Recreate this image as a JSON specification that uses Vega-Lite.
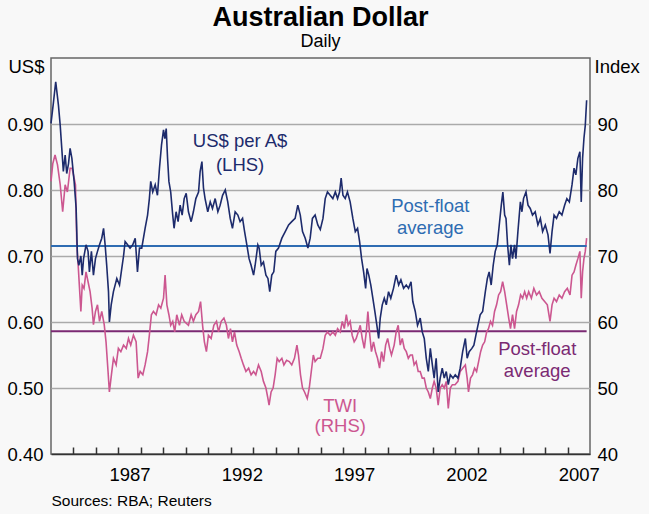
{
  "$schema": "https://vega.github.io/schema/vega-lite/v6.json",
  "width": 539,
  "height": 396,
  "autosize": "none",
  "padding": {"left": 51, "top": 58, "right": 59, "bottom": 60},
  "background": "#f8f8f8",
  "title": {
    "text": "Australian Dollar",
    "subtitle": "Daily",
    "anchor": "middle",
    "frame": "group",
    "font": "Liberation Sans",
    "fontSize": 27,
    "fontWeight": "bold",
    "color": "#000000",
    "subtitleFont": "Liberation Sans",
    "subtitleFontSize": 18,
    "subtitleColor": "#000000",
    "subtitlePadding": 1,
    "offset": 5
  },
  "datasets": {
    "usd": [
      {"t":1984.00,"v":0.901},{"t":1984.10,"v":0.930},{"t":1984.21,"v":0.964},{"t":1984.33,"v":0.929},{"t":1984.41,"v":0.898},{"t":1984.48,"v":0.863},{"t":1984.55,"v":0.828},{"t":1984.63,"v":0.853},{"t":1984.70,"v":0.825},{"t":1984.78,"v":0.840},{"t":1984.85,"v":0.863},{"t":1984.93,"v":0.848},
      {"t":1985.03,"v":0.813},{"t":1985.12,"v":0.772},{"t":1985.18,"v":0.696},{"t":1985.24,"v":0.686},{"t":1985.33,"v":0.700},{"t":1985.39,"v":0.671},{"t":1985.45,"v":0.696},{"t":1985.56,"v":0.717},{"t":1985.65,"v":0.707},{"t":1985.71,"v":0.676},{"t":1985.80,"v":0.707},{"t":1985.89,"v":0.671},{"t":1985.98,"v":0.696},
      {"t":1986.07,"v":0.707},{"t":1986.16,"v":0.717},{"t":1986.26,"v":0.727},{"t":1986.34,"v":0.742},{"t":1986.41,"v":0.717},{"t":1986.48,"v":0.686},{"t":1986.56,"v":0.646},{"t":1986.60,"v":0.600},{"t":1986.68,"v":0.626},{"t":1986.78,"v":0.646},{"t":1986.93,"v":0.666},
      {"t":1987.05,"v":0.656},{"t":1987.15,"v":0.681},{"t":1987.23,"v":0.700},{"t":1987.30,"v":0.722},{"t":1987.41,"v":0.717},{"t":1987.52,"v":0.712},{"t":1987.64,"v":0.717},{"t":1987.75,"v":0.727},{"t":1987.85,"v":0.676},{"t":1987.94,"v":0.712},
      {"t":1988.04,"v":0.712},{"t":1988.19,"v":0.742},{"t":1988.30,"v":0.762},{"t":1988.38,"v":0.787},{"t":1988.44,"v":0.813},{"t":1988.53,"v":0.797},{"t":1988.64,"v":0.808},{"t":1988.74,"v":0.792},{"t":1988.83,"v":0.833},{"t":1988.92,"v":0.868},
      {"t":1989.01,"v":0.891},{"t":1989.07,"v":0.878},{"t":1989.13,"v":0.893},{"t":1989.19,"v":0.848},{"t":1989.25,"v":0.813},{"t":1989.33,"v":0.797},{"t":1989.42,"v":0.762},{"t":1989.48,"v":0.742},{"t":1989.57,"v":0.767},{"t":1989.66,"v":0.752},{"t":1989.75,"v":0.777},{"t":1989.84,"v":0.762},{"t":1989.93,"v":0.787},{"t":1990.02,"v":0.795},
      {"t":1990.12,"v":0.767},{"t":1990.24,"v":0.752},{"t":1990.34,"v":0.767},{"t":1990.45,"v":0.787},{"t":1990.57,"v":0.797},{"t":1990.64,"v":0.828},{"t":1990.72,"v":0.843},{"t":1990.79,"v":0.803},{"t":1990.86,"v":0.787},{"t":1990.98,"v":0.767},
      {"t":1991.09,"v":0.782},{"t":1991.19,"v":0.772},{"t":1991.31,"v":0.787},{"t":1991.43,"v":0.767},{"t":1991.53,"v":0.777},{"t":1991.64,"v":0.792},{"t":1991.76,"v":0.800},{"t":1991.87,"v":0.782},{"t":1991.98,"v":0.757},
      {"t":1992.08,"v":0.742},{"t":1992.20,"v":0.767},{"t":1992.32,"v":0.762},{"t":1992.42,"v":0.752},{"t":1992.53,"v":0.757},{"t":1992.62,"v":0.737},{"t":1992.72,"v":0.717},{"t":1992.82,"v":0.696},{"t":1992.91,"v":0.686},
      {"t":1993.02,"v":0.671},{"t":1993.09,"v":0.686},{"t":1993.21,"v":0.717},{"t":1993.27,"v":0.712},{"t":1993.36,"v":0.686},{"t":1993.46,"v":0.691},{"t":1993.57,"v":0.671},{"t":1993.66,"v":0.666},{"t":1993.74,"v":0.646},{"t":1993.83,"v":0.671},{"t":1993.92,"v":0.676},
      {"t":1994.01,"v":0.707},{"t":1994.13,"v":0.712},{"t":1994.28,"v":0.727},{"t":1994.43,"v":0.737},{"t":1994.58,"v":0.747},{"t":1994.72,"v":0.752},{"t":1994.87,"v":0.757},{"t":1994.99,"v":0.777},
      {"t":1995.10,"v":0.762},{"t":1995.20,"v":0.737},{"t":1995.32,"v":0.727},{"t":1995.44,"v":0.712},{"t":1995.54,"v":0.727},{"t":1995.64,"v":0.757},{"t":1995.76,"v":0.762},{"t":1995.88,"v":0.747},{"t":1995.99,"v":0.740},
      {"t":1996.11,"v":0.757},{"t":1996.21,"v":0.787},{"t":1996.31,"v":0.797},{"t":1996.43,"v":0.792},{"t":1996.55,"v":0.787},{"t":1996.66,"v":0.797},{"t":1996.76,"v":0.787},{"t":1996.85,"v":0.797},{"t":1996.92,"v":0.818},
      {"t":1997.00,"v":0.792},{"t":1997.10,"v":0.787},{"t":1997.20,"v":0.797},{"t":1997.32,"v":0.782},{"t":1997.44,"v":0.757},{"t":1997.55,"v":0.737},{"t":1997.65,"v":0.742},{"t":1997.74,"v":0.722},{"t":1997.83,"v":0.696},{"t":1997.92,"v":0.676},
      {"t":1998.01,"v":0.651},{"t":1998.07,"v":0.681},{"t":1998.15,"v":0.671},{"t":1998.24,"v":0.656},{"t":1998.33,"v":0.636},{"t":1998.42,"v":0.616},{"t":1998.51,"v":0.595},{"t":1998.59,"v":0.575},{"t":1998.66,"v":0.606},{"t":1998.75,"v":0.626},{"t":1998.84,"v":0.636},{"t":1998.93,"v":0.626},
      {"t":1999.03,"v":0.646},{"t":1999.13,"v":0.636},{"t":1999.25,"v":0.651},{"t":1999.37,"v":0.671},{"t":1999.48,"v":0.656},{"t":1999.58,"v":0.664},{"t":1999.70,"v":0.651},{"t":1999.82,"v":0.656},{"t":1999.92,"v":0.651},
      {"t":2000.03,"v":0.661},{"t":2000.11,"v":0.631},{"t":2000.22,"v":0.616},{"t":2000.32,"v":0.595},{"t":2000.44,"v":0.606},{"t":2000.53,"v":0.585},{"t":2000.62,"v":0.575},{"t":2000.71,"v":0.545},{"t":2000.80,"v":0.525},{"t":2000.89,"v":0.560},{"t":2000.98,"v":0.535},
      {"t":2001.06,"v":0.515},{"t":2001.15,"v":0.545},{"t":2001.24,"v":0.494},{"t":2001.33,"v":0.515},{"t":2001.42,"v":0.530},{"t":2001.51,"v":0.515},{"t":2001.60,"v":0.525},{"t":2001.69,"v":0.505},{"t":2001.78,"v":0.520},{"t":2001.90,"v":0.515},
      {"t":2002.00,"v":0.520},{"t":2002.12,"v":0.515},{"t":2002.22,"v":0.530},{"t":2002.33,"v":0.555},{"t":2002.45,"v":0.575},{"t":2002.53,"v":0.545},{"t":2002.62,"v":0.555},{"t":2002.74,"v":0.560},{"t":2002.83,"v":0.565},{"t":2002.92,"v":0.580},
      {"t":2003.01,"v":0.595},{"t":2003.11,"v":0.611},{"t":2003.22,"v":0.616},{"t":2003.34,"v":0.646},{"t":2003.43,"v":0.666},{"t":2003.51,"v":0.676},{"t":2003.60,"v":0.656},{"t":2003.69,"v":0.686},{"t":2003.78,"v":0.707},{"t":2003.87,"v":0.717},{"t":2003.96,"v":0.747},
      {"t":2004.05,"v":0.777},{"t":2004.12,"v":0.797},{"t":2004.20,"v":0.762},{"t":2004.26,"v":0.757},{"t":2004.33,"v":0.717},{"t":2004.41,"v":0.686},{"t":2004.48,"v":0.717},{"t":2004.55,"v":0.696},{"t":2004.64,"v":0.717},{"t":2004.70,"v":0.696},{"t":2004.79,"v":0.737},{"t":2004.90,"v":0.782},{"t":2004.97,"v":0.767},
      {"t":2005.04,"v":0.787},{"t":2005.15,"v":0.797},{"t":2005.24,"v":0.777},{"t":2005.34,"v":0.772},{"t":2005.44,"v":0.762},{"t":2005.56,"v":0.767},{"t":2005.68,"v":0.747},{"t":2005.79,"v":0.757},{"t":2005.89,"v":0.737},
      {"t":2006.01,"v":0.747},{"t":2006.13,"v":0.732},{"t":2006.22,"v":0.704},{"t":2006.31,"v":0.737},{"t":2006.40,"v":0.762},{"t":2006.51,"v":0.757},{"t":2006.63,"v":0.767},{"t":2006.75,"v":0.762},{"t":2006.87,"v":0.777},{"t":2006.97,"v":0.787},
      {"t":2007.08,"v":0.782},{"t":2007.20,"v":0.808},{"t":2007.29,"v":0.833},{"t":2007.37,"v":0.823},{"t":2007.46,"v":0.848},{"t":2007.55,"v":0.858},{"t":2007.61,"v":0.782},{"t":2007.67,"v":0.848},{"t":2007.73,"v":0.878},{"t":2007.79,"v":0.898},{"t":2007.85,"v":0.936}
    ],
    "twi": [
      {"t":1984.00,"v":81.3},{"t":1984.08,"v":84.0},{"t":1984.18,"v":85.3},{"t":1984.29,"v":83.8},{"t":1984.41,"v":80.8},{"t":1984.52,"v":76.7},{"t":1984.63,"v":80.8},{"t":1984.73,"v":79.7},{"t":1984.85,"v":83.3},{"t":1984.94,"v":83.3},
      {"t":1985.03,"v":81.8},{"t":1985.09,"v":80.8},{"t":1985.15,"v":71.7},{"t":1985.21,"v":68.6},{"t":1985.27,"v":65.1},{"t":1985.33,"v":61.6},{"t":1985.39,"v":65.6},{"t":1985.47,"v":65.1},{"t":1985.56,"v":67.6},{"t":1985.65,"v":66.1},{"t":1985.74,"v":64.6},{"t":1985.83,"v":62.1},{"t":1985.89,"v":59.6},{"t":1985.98,"v":61.6},
      {"t":1986.07,"v":62.6},{"t":1986.16,"v":60.1},{"t":1986.26,"v":61.6},{"t":1986.37,"v":59.6},{"t":1986.45,"v":57.0},{"t":1986.54,"v":52.5},{"t":1986.60,"v":49.4},{"t":1986.69,"v":52.0},{"t":1986.78,"v":54.5},{"t":1986.90,"v":53.5},
      {"t":1987.00,"v":56.0},{"t":1987.11,"v":55.5},{"t":1987.23,"v":56.5},{"t":1987.35,"v":56.0},{"t":1987.45,"v":57.5},{"t":1987.55,"v":56.5},{"t":1987.67,"v":58.0},{"t":1987.79,"v":57.0},{"t":1987.88,"v":51.5},{"t":1987.97,"v":52.5},
      {"t":1988.09,"v":52.0},{"t":1988.19,"v":53.5},{"t":1988.30,"v":55.5},{"t":1988.38,"v":58.0},{"t":1988.47,"v":61.1},{"t":1988.56,"v":61.6},{"t":1988.68,"v":61.1},{"t":1988.79,"v":62.6},{"t":1988.89,"v":62.1},
      {"t":1989.01,"v":63.6},{"t":1989.08,"v":67.1},{"t":1989.16,"v":62.6},{"t":1989.25,"v":61.1},{"t":1989.33,"v":59.5},{"t":1989.42,"v":60.1},{"t":1989.51,"v":58.5},{"t":1989.60,"v":61.1},{"t":1989.72,"v":59.5},{"t":1989.82,"v":61.1},{"t":1989.93,"v":60.1},
      {"t":1990.12,"v":59.5},{"t":1990.24,"v":61.1},{"t":1990.34,"v":60.1},{"t":1990.45,"v":61.1},{"t":1990.57,"v":61.6},{"t":1990.66,"v":63.1},{"t":1990.75,"v":59.5},{"t":1990.83,"v":57.0},{"t":1990.92,"v":55.5},
      {"t":1991.01,"v":58.0},{"t":1991.13,"v":57.5},{"t":1991.25,"v":59.5},{"t":1991.37,"v":60.1},{"t":1991.46,"v":58.5},{"t":1991.58,"v":60.1},{"t":1991.70,"v":60.6},{"t":1991.81,"v":59.5},{"t":1991.90,"v":57.5},{"t":1991.99,"v":59.0},
      {"t":1992.08,"v":57.0},{"t":1992.17,"v":58.5},{"t":1992.27,"v":56.5},{"t":1992.38,"v":55.5},{"t":1992.47,"v":54.5},{"t":1992.57,"v":53.5},{"t":1992.68,"v":52.5},{"t":1992.80,"v":53.0},{"t":1992.91,"v":52.0},
      {"t":1993.02,"v":52.5},{"t":1993.12,"v":52.0},{"t":1993.24,"v":53.5},{"t":1993.36,"v":52.5},{"t":1993.46,"v":51.0},{"t":1993.57,"v":50.0},{"t":1993.66,"v":48.4},{"t":1993.71,"v":47.4},{"t":1993.80,"v":49.4},{"t":1993.89,"v":50.0},{"t":1993.98,"v":52.0},
      {"t":1994.07,"v":54.5},{"t":1994.16,"v":54.0},{"t":1994.28,"v":54.5},{"t":1994.37,"v":53.5},{"t":1994.49,"v":54.2},{"t":1994.61,"v":54.0},{"t":1994.72,"v":53.5},{"t":1994.84,"v":54.5},{"t":1994.95,"v":56.5},
      {"t":1995.02,"v":55.0},{"t":1995.11,"v":52.0},{"t":1995.20,"v":50.0},{"t":1995.29,"v":49.4},{"t":1995.41,"v":48.4},{"t":1995.50,"v":50.0},{"t":1995.59,"v":52.5},{"t":1995.68,"v":55.0},{"t":1995.76,"v":54.0},{"t":1995.88,"v":54.5},{"t":1995.99,"v":54.5},
      {"t":1996.11,"v":56.0},{"t":1996.21,"v":58.0},{"t":1996.31,"v":58.5},{"t":1996.43,"v":58.0},{"t":1996.55,"v":58.5},{"t":1996.66,"v":58.0},{"t":1996.76,"v":59.0},{"t":1996.88,"v":58.5},{"t":1996.97,"v":60.1},
      {"t":1997.06,"v":59.0},{"t":1997.15,"v":61.1},{"t":1997.23,"v":59.5},{"t":1997.32,"v":60.1},{"t":1997.41,"v":58.0},{"t":1997.50,"v":57.0},{"t":1997.59,"v":57.5},{"t":1997.68,"v":58.5},{"t":1997.77,"v":59.5},{"t":1997.86,"v":57.5},{"t":1997.95,"v":56.0},
      {"t":1998.04,"v":58.5},{"t":1998.11,"v":61.6},{"t":1998.18,"v":58.5},{"t":1998.27,"v":55.5},{"t":1998.36,"v":57.0},{"t":1998.45,"v":55.5},{"t":1998.54,"v":54.5},{"t":1998.63,"v":53.0},{"t":1998.72,"v":55.5},{"t":1998.81,"v":54.0},{"t":1998.90,"v":56.5},{"t":1998.99,"v":57.5},
      {"t":1999.08,"v":56.0},{"t":1999.16,"v":55.0},{"t":1999.28,"v":56.5},{"t":1999.37,"v":58.5},{"t":1999.46,"v":59.5},{"t":1999.55,"v":56.5},{"t":1999.64,"v":57.5},{"t":1999.73,"v":56.0},{"t":1999.82,"v":55.5},{"t":1999.91,"v":54.5},
      {"t":2000.00,"v":55.0},{"t":2000.09,"v":55.0},{"t":2000.17,"v":53.5},{"t":2000.26,"v":54.0},{"t":2000.35,"v":52.5},{"t":2000.44,"v":52.5},{"t":2000.53,"v":51.5},{"t":2000.62,"v":51.5},{"t":2000.71,"v":50.0},{"t":2000.80,"v":49.4},{"t":2000.89,"v":48.4},{"t":2000.98,"v":50.0},
      {"t":2001.06,"v":51.0},{"t":2001.15,"v":50.0},{"t":2001.24,"v":47.4},{"t":2001.33,"v":50.0},{"t":2001.42,"v":50.5},{"t":2001.51,"v":50.0},{"t":2001.60,"v":51.0},{"t":2001.69,"v":46.9},{"t":2001.78,"v":50.0},{"t":2001.87,"v":50.5},{"t":2001.99,"v":50.5},
      {"t":2002.12,"v":51.0},{"t":2002.22,"v":52.5},{"t":2002.33,"v":53.0},{"t":2002.45,"v":53.5},{"t":2002.53,"v":51.5},{"t":2002.59,"v":49.4},{"t":2002.68,"v":51.5},{"t":2002.77,"v":52.0},{"t":2002.86,"v":53.0},{"t":2002.95,"v":52.5},
      {"t":2003.04,"v":54.0},{"t":2003.13,"v":55.5},{"t":2003.22,"v":56.5},{"t":2003.31,"v":57.0},{"t":2003.40,"v":58.5},{"t":2003.48,"v":59.0},{"t":2003.57,"v":60.1},{"t":2003.66,"v":59.5},{"t":2003.75,"v":61.6},{"t":2003.84,"v":62.6},{"t":2003.93,"v":64.1},
      {"t":2004.02,"v":64.6},{"t":2004.11,"v":66.1},{"t":2004.20,"v":64.6},{"t":2004.29,"v":62.6},{"t":2004.38,"v":60.6},{"t":2004.46,"v":59.0},{"t":2004.55,"v":61.1},{"t":2004.64,"v":59.0},{"t":2004.73,"v":61.6},{"t":2004.82,"v":62.6},{"t":2004.91,"v":64.1},
      {"t":2005.00,"v":63.6},{"t":2005.09,"v":64.6},{"t":2005.18,"v":63.6},{"t":2005.27,"v":64.6},{"t":2005.39,"v":63.6},{"t":2005.50,"v":65.1},{"t":2005.62,"v":64.1},{"t":2005.74,"v":64.6},{"t":2005.86,"v":63.6},{"t":2005.98,"v":63.1},
      {"t":2006.10,"v":62.6},{"t":2006.22,"v":60.1},{"t":2006.31,"v":62.6},{"t":2006.40,"v":63.6},{"t":2006.51,"v":63.1},{"t":2006.63,"v":64.1},{"t":2006.75,"v":63.6},{"t":2006.87,"v":64.6},{"t":2006.99,"v":65.1},
      {"t":2007.11,"v":64.1},{"t":2007.20,"v":67.1},{"t":2007.29,"v":67.6},{"t":2007.37,"v":68.6},{"t":2007.46,"v":69.6},{"t":2007.55,"v":70.7},{"t":2007.61,"v":63.6},{"t":2007.67,"v":67.6},{"t":2007.73,"v":69.6},{"t":2007.79,"v":70.7},{"t":2007.85,"v":72.7}
    ],
    "yearStarts": [
      {"t":1985},{"t":1986},{"t":1987},{"t":1988},{"t":1989},{"t":1990},{"t":1991},{"t":1992},{"t":1993},{"t":1994},{"t":1995},{"t":1996},
      {"t":1997},{"t":1998},{"t":1999},{"t":2000},{"t":2001},{"t":2002},{"t":2003},{"t":2004},{"t":2005},{"t":2006},{"t":2007}
    ],
    "usdAverage": [{"t": 1984.0, "t2": 2007.85, "v": 0.715}],
    "twiAverage": [{"t": 1984.0, "t2": 2007.85, "v": 58.6}],
    "usdLabel": [
      {"t": 1992.42, "v": 0.865, "label": "US$ per A$"},
      {"t": 1992.42, "v": 0.829, "label": "(LHS)"}
    ],
    "usdAverageLabel": [
      {"t": 2000.89, "v": 0.767, "label": "Post-float"},
      {"t": 2000.89, "v": 0.733, "label": "average"}
    ],
    "twiLabel": [
      {"t": 1996.88, "v": 46.4, "label": "TWI"},
      {"t": 1996.88, "v": 43.4, "label": "(RHS)"}
    ],
    "twiAverageLabel": [
      {"t": 2005.65, "v": 55.0, "label": "Post-float"},
      {"t": 2005.65, "v": 51.7, "label": "average"}
    ]
  },
  "layer": [
    {
      "encoding": {
        "x": {
          "field": "t",
          "type": "quantitative",
          "scale": {"domain": [1984, 2008], "nice": false, "zero": false},
          "axis": {
            "orient": "bottom",
            "values": [1985, 1986, 1987, 1988, 1989, 1990, 1991, 1992, 1993, 1994, 1995, 1996, 1997, 1998, 1999, 2000, 2001, 2002, 2003, 2004, 2005, 2006, 2007],
            "labelExpr": "indexof([1987, 1992, 1997, 2002, 2007], datum.value) >= 0 ? '' + datum.value : ''",
            "labelOffset": 11.2,
            "ticks": false,
            "domain": true,
            "domainColor": "#333333",
            "domainWidth": 1.5,
            "grid": false,
            "labelFontSize": 18.5,
            "labelPadding": 11,
            "labelFlush": false,
            "labelOverlap": false,
            "title": "Sources: RBA; Reuters",
            "titleFontSize": 15.5,
            "titleFontWeight": "normal",
            "titleAnchor": "start",
            "titleAlign": "left",
            "titleBaseline": "alphabetic",
            "titleX": 0,
            "titleY": 51
          }
        },
        "y": {
          "field": "v",
          "type": "quantitative",
          "scale": {"domain": [40, 100], "nice": false, "zero": false},
          "axis": {
            "orient": "right",
            "values": [40, 50, 60, 70, 80, 90],
            "grid": false,
            "ticks": false,
            "domain": false,
            "labelFontSize": 18.5,
            "labelPadding": 7,
            "title": "Index",
            "titleAngle": 0,
            "titleAlign": "left",
            "titleBaseline": "alphabetic",
            "titleFontSize": 18.5,
            "titleFontWeight": "normal",
            "titleX": 4,
            "titleY": 14
          }
        }
      },
      "layer": [
        {
          "data": {"name": "yearStarts"},
          "mark": {"type": "rule", "color": "#333333", "strokeWidth": 1.5},
          "encoding": {"y": {"datum": 40}, "y2": {"datum": 41.1}}
        },
        {
          "data": {"name": "twiAverage"},
          "mark": {"type": "rule", "color": "#7b2a73", "strokeWidth": 2},
          "encoding": {"x2": {"field": "t2"}}
        },
        {
          "data": {"name": "twi"},
          "mark": {"type": "line", "color": "#cc5790", "strokeWidth": 1.6},
          "encoding": {}
        },
        {
          "data": {"name": "twiLabel"},
          "mark": {"type": "text", "color": "#cc5790", "fontSize": 18.5, "align": "center", "baseline": "alphabetic"},
          "encoding": {"text": {"field": "label"}}
        },
        {
          "data": {"name": "twiAverageLabel"},
          "mark": {"type": "text", "color": "#7b2a73", "fontSize": 18.5, "align": "center", "baseline": "alphabetic"},
          "encoding": {"text": {"field": "label"}}
        }
      ]
    },
    {
      "encoding": {
        "x": {
          "field": "t",
          "type": "quantitative",
          "axis": {
            "orient": "top",
            "offset": -396,
            "values": [1985, 1986, 1987, 1988, 1989, 1990, 1991, 1992, 1993, 1994, 1995, 1996, 1997, 1998, 1999, 2000, 2001, 2002, 2003, 2004, 2005, 2006, 2007],
            "labels": false,
            "ticks": true,
            "tickSize": 7,
            "tickWidth": 1.5,
            "tickColor": "#333333",
            "domain": false,
            "grid": false,
            "title": null
          }
        },
        "y": {
          "field": "v",
          "type": "quantitative",
          "scale": {"domain": [0.4, 1.0], "nice": false, "zero": false},
          "axis": {
            "orient": "left",
            "values": [0.4, 0.5, 0.6, 0.7, 0.8, 0.9],
            "format": ".2f",
            "grid": true,
            "gridColor": "#aaaaaa",
            "gridWidth": 1.5,
            "gridOpacity": {"condition": {"test": "datum.value < 0.45", "value": 0}, "value": 1},
            "ticks": false,
            "domain": false,
            "labelFontSize": 18.5,
            "labelPadding": 8,
            "title": "US$",
            "titleAngle": 0,
            "titleAlign": "right",
            "titleBaseline": "alphabetic",
            "titleFontSize": 18.5,
            "titleFontWeight": "normal",
            "titleX": -7,
            "titleY": 14
          }
        }
      },
      "layer": [
        {
          "data": {"name": "usdAverage"},
          "mark": {"type": "rule", "color": "#2e6cb2", "strokeWidth": 2},
          "encoding": {"x2": {"field": "t2"}}
        },
        {
          "data": {"name": "usd"},
          "mark": {"type": "line", "color": "#1d2b6c", "strokeWidth": 1.6},
          "encoding": {}
        },
        {
          "data": {"name": "usdLabel"},
          "mark": {"type": "text", "color": "#1d2b6c", "fontSize": 18.5, "align": "center", "baseline": "alphabetic"},
          "encoding": {"text": {"field": "label"}}
        },
        {
          "data": {"name": "usdAverageLabel"},
          "mark": {"type": "text", "color": "#2e6cb2", "fontSize": 18.5, "align": "center", "baseline": "alphabetic"},
          "encoding": {"text": {"field": "label"}}
        }
      ]
    }
  ],
  "resolve": {"scale": {"y": "independent"}, "axis": {"x": "independent", "y": "independent"}},
  "config": {
    "font": "Liberation Sans",
    "view": {"stroke": "#666666", "strokeWidth": 1.5},
    "axis": {"labelColor": "#000000", "titleColor": "#000000", "labelFont": "Liberation Sans", "titleFont": "Liberation Sans"},
    "text": {"font": "Liberation Sans"}
  }
}
